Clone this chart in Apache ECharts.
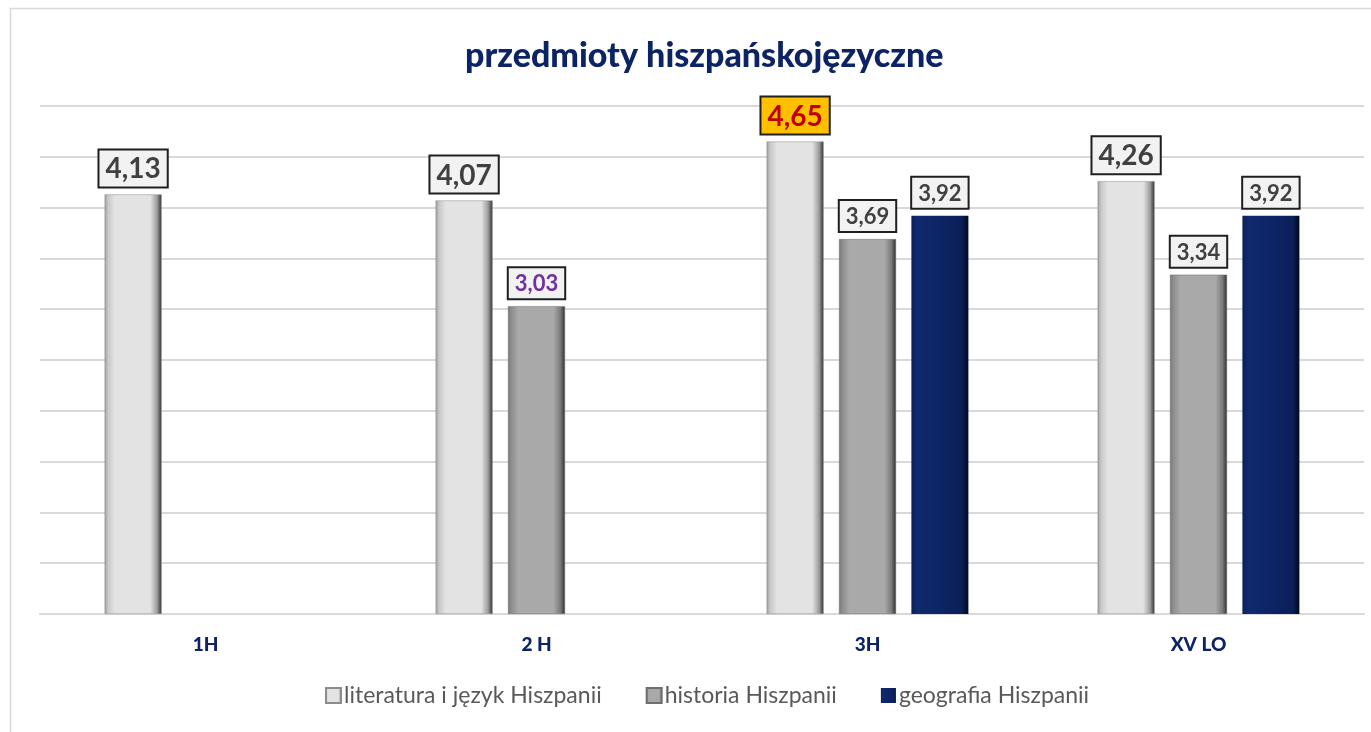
<!DOCTYPE html>
<html>
<head>
    <meta charset="UTF-8">
    <title>przedmioty hiszpańskojęzyczne</title>
    <script src="https://cdn.jsdelivr.net/npm/echarts@6/dist/echarts.min.js"></script>
    <style>
        html, body { margin: 0; padding: 0; background: #fff; }
        #chart { width: 1371px; height: 732px; }
    </style>
</head>
<body>
    <div id="chart"></div>
    <script>
        // dane wykresu
        var classes = ['1H', '2 H', '3H', 'XV LO'];
        var seriesNames = ['literatura i język Hiszpanii', 'historia Hiszpanii', 'geografia Hiszpanii'];
        var literatura = [4.13, 4.07, 4.65, 4.26];
        var historia = [null, 3.03, 3.69, 3.34];
        var geografia = [null, null, 3.92, 3.92];

        var chart = echarts.init(document.getElementById('chart'));
        var font = 'Lato, "Noto Sans", sans-serif';

        // poziomy gradient "fazy" na krawędziach słupka
        function bevel(edge, light, mid, dark) {
            return new echarts.graphic.LinearGradient(0, 0, 1, 0, [
                { offset: 0, color: edge },
                { offset: 0.06, color: light },
                { offset: 0.18, color: mid },
                { offset: 0.8, color: mid },
                { offset: 0.92, color: dark },
                { offset: 1, color: '#303030' }
            ]);
        }

        function fmt(p) {
            return p.value == null ? '' : p.value.toFixed(2).replace('.', ',');
        }

        function baseLabel(size) {
            return {
                show: true,
                position: 'top',
                distance: 8,
                formatter: fmt,
                fontFamily: font,
                fontWeight: 'bold',
                fontSize: size,
                color: '#404040',
                backgroundColor: '#f2f2f2',
                borderColor: '#1f1f1f',
                borderWidth: 2,
                padding: [5, 6, 3, 6]
            };
        }

        // wyróżnione etykiety
        function items(values, special) {
            return values.map(function (v, i) {
                if (special && special[i]) {
                    return { value: v, label: special[i] };
                }
                return v;
            });
        }

        var option = {
            backgroundColor: '#fff',
            graphic: [{
                type: 'rect',
                shape: { x: 10.5, y: 8.5, width: 1400, height: 800 },
                style: { fill: 'none', stroke: '#d9d9d9', lineWidth: 1.5 },
                silent: true
            }],
            title: {
                text: 'przedmioty hiszpańskojęzyczne',
                left: 460,
                top: 34,
                textStyle: { fontFamily: font, fontWeight: 900, fontSize: 34, color: '#0c2366' }
            },
            legend: {
                bottom: 20,
                left: 320,
                icon: 'rect',
                itemWidth: 15,
                itemHeight: 15,
                itemGap: 44,
                textStyle: { fontFamily: font, fontSize: 23, color: '#595959', padding: [0, 0, 0, -2] },
                data: seriesNames
            },
            grid: { left: 40, right: 7, top: 106, bottom: 118 },
            xAxis: {
                type: 'category',
                data: classes,
                axisTick: { show: false },
                axisLine: { lineStyle: { color: '#d9d9d9', width: 2 } },
                axisLabel: { margin: 21, fontFamily: font, fontWeight: 900, fontSize: 19, color: '#0c2366' }
            },
            yAxis: {
                type: 'value',
                min: 0,
                max: 5,
                interval: 0.5,
                axisLabel: { show: false },
                axisLine: { show: false },
                axisTick: { show: false },
                splitLine: { lineStyle: { color: '#d9d9d9', width: 2 } }
            },
            series: [
                {
                    name: seriesNames[0],
                    type: 'bar',
                    barWidth: 57,
                    barGap: '27%',
                    data: items(literatura, {
                        2: { backgroundColor: '#ffc000', color: '#c00000' }
                    }),
                    itemStyle: {
                        color: bevel('#9a9a9a', '#c8c8c8', '#e3e3e3', '#9d9d9d'),
                        borderColor: '#8c8c8c',
                        borderWidth: 0.5
                    },
                    label: baseLabel(28)
                },
                {
                    name: seriesNames[1],
                    type: 'bar',
                    barWidth: 57,
                    barGap: '27%',
                    data: items(historia, {
                        1: { color: '#7030a0' }
                    }),
                    itemStyle: {
                        color: bevel('#777', '#8e8e8e', '#a9a9a9', '#7a7a7a'),
                        borderColor: '#6e6e6e',
                        borderWidth: 0.5
                    },
                    label: baseLabel(22)
                },
                {
                    name: seriesNames[2],
                    type: 'bar',
                    barWidth: 57,
                    barGap: '27%',
                    data: geografia,
                    itemStyle: {
                        color: new echarts.graphic.LinearGradient(0, 0, 1, 0, [
                            { offset: 0, color: '#0a1f55' },
                            { offset: 0.1, color: '#0f2a6e' },
                            { offset: 0.5, color: '#0d2566' },
                            { offset: 0.88, color: '#0b1f58' },
                            { offset: 1, color: '#020a20' }
                        ])
                    },
                    label: baseLabel(22)
                }
            ]
        };

        chart.setOption(option);
    </script>
</body>
</html>
